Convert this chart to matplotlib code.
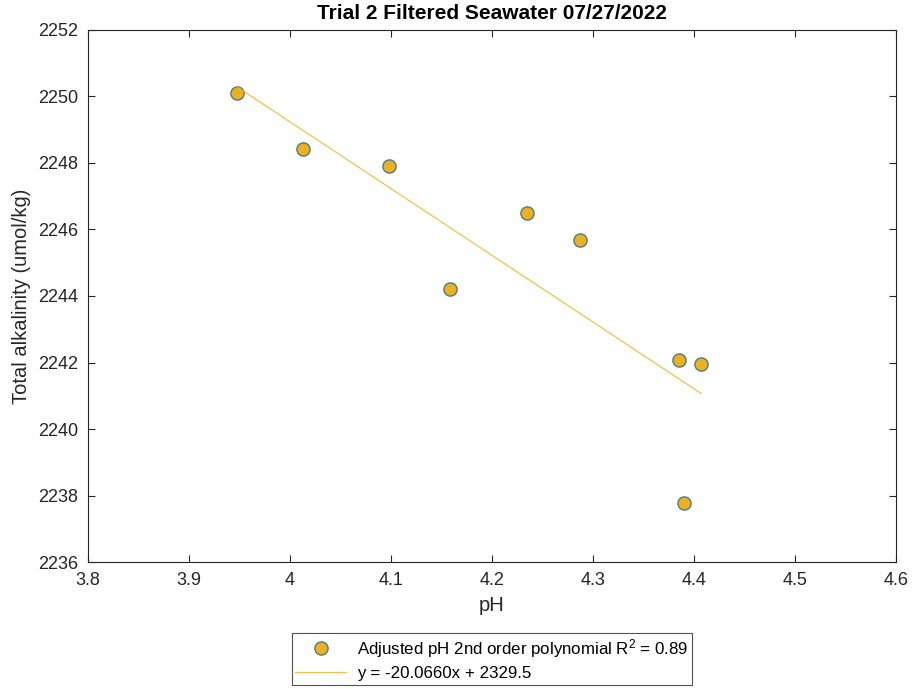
import numpy as np
import matplotlib
matplotlib.use("Agg")
import matplotlib.pyplot as plt

plt.rcParams['font.family'] = ['Liberation Sans', 'DejaVu Sans']
plt.rcParams['mathtext.fontset'] = 'custom'
plt.rcParams['mathtext.rm'] = 'Liberation Sans'
plt.rcParams['mathtext.default'] = 'rm'

# Measured samples: adjusted pH vs. total alkalinity
ph = [3.9475, 4.0126, 4.098, 4.158, 4.235, 4.287, 4.3855, 4.407, 4.390]
alkalinity = [2250.11, 2248.43, 2247.92, 2244.20, 2246.49, 2245.69, 2242.08, 2241.95, 2237.78]

# Linear fit coefficients
slope = -20.0660
intercept = 2329.5
r_squared = 0.89

xticks = [3.8, 3.9, 4.0, 4.1, 4.2, 4.3, 4.4, 4.5, 4.6]
xtick_labels = ['3.8', '3.9', '4', '4.1', '4.2', '4.3', '4.4', '4.5', '4.6']
yticks = [2236, 2238, 2240, 2242, 2244, 2246, 2248, 2250, 2252]

fig = plt.figure(figsize=(9.13, 6.89), dpi=100)
ax = fig.add_axes([0.0964, 0.1843, 0.885, 0.7722])

ax.plot(ph, alkalinity, linestyle='none', marker='o', markersize=9.5,
        markerfacecolor='#EDB120', markeredgecolor='#4a7d86', markeredgewidth=1.0,
        label=f'Adjusted pH 2nd order polynomial R$^2$ = {r_squared:.2f}')

xfit = np.array([min(ph), max(ph)])
ax.plot(xfit, slope * xfit + intercept, color='#EDB120', linewidth=0.9, alpha=0.8,
        label=f'y = {slope:.4f}x + {intercept}')

ax.set_xlim(3.8, 4.6)
ax.set_ylim(2236, 2252)
ax.set_xticks(xticks)
ax.set_xticklabels(xtick_labels)
ax.set_yticks(yticks)
ax.tick_params(direction='in', length=5, width=0.8, top=True, right=True,
               labelsize=13, colors='#262626', labelcolor='#262626', pad=7)
for s in ax.spines.values():
    s.set_linewidth(0.8)
    s.set_color('#262626')

ax.set_xlabel('pH', fontsize=14.5, color='#262626', labelpad=5)
ax.set_ylabel('Total alkalinity (umol/kg)', fontsize=14.5, color='#262626', labelpad=5)
ax.set_title('Trial 2 Filtered Seawater 07/27/2022', fontsize=15, fontweight='bold', pad=8)

leg = ax.legend(loc='upper center', bbox_to_anchor=(0.5, -0.1334), fontsize=12.2,
                frameon=True, fancybox=False, edgecolor='#262626',
                handlelength=3.0, borderpad=0.22, labelspacing=0.38, handletextpad=0.65,
                borderaxespad=0)
leg.get_frame().set_linewidth(0.8)

fig.savefig('out.png', dpi=100)
